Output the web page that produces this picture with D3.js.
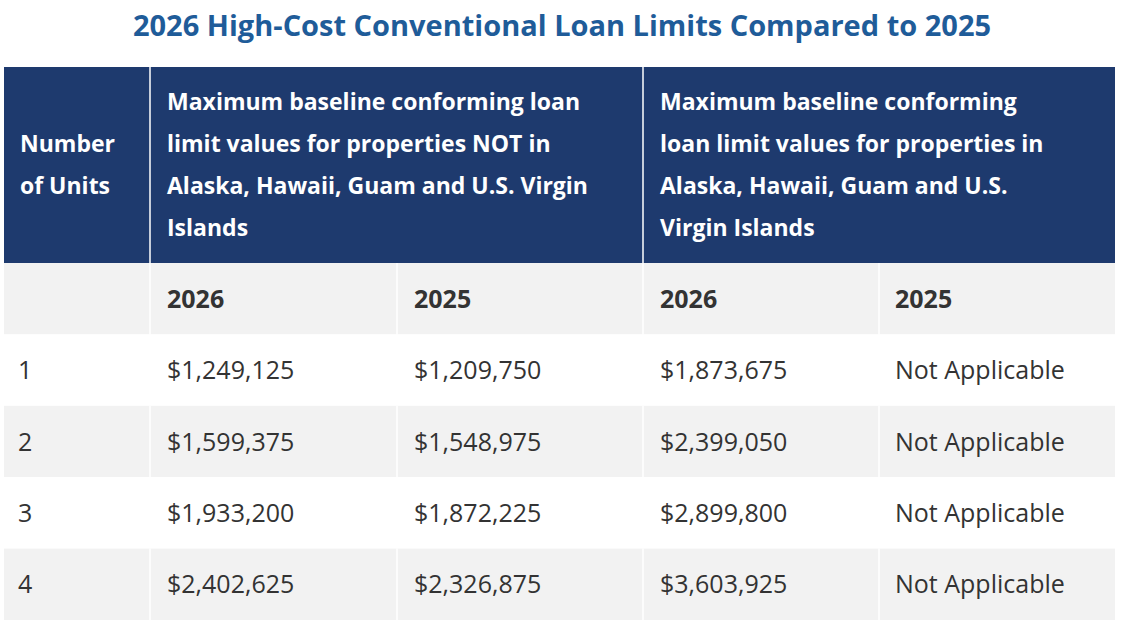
<!DOCTYPE html>
<html><head><meta charset="utf-8">
<script src="https://cdn.jsdelivr.net/npm/d3@7"></script>
<style>body{margin:0;background:#fff}text{font-family:"Open Sans",sans-serif}</style>
</head><body><div id="chart"></div>
<script>
// table data
var title = "2026 High-Cost Conventional Loan Limits Compared to 2025";
var headFirst = ["Number", "of Units"];
var headNotIn = ["Maximum baseline conforming loan", "limit values for properties NOT in", "Alaska, Hawaii, Guam and U.S. Virgin", "Islands"];
var headIn = ["Maximum baseline conforming", "loan limit values for properties in", "Alaska, Hawaii, Guam and U.S.", "Virgin Islands"];
var years = ["2026", "2025", "2026", "2025"];
var units = ["1", "2", "3", "4"];
var notIn2026 = ["$1,249,125", "$1,599,375", "$1,933,200", "$2,402,625"];
var notIn2025 = ["$1,209,750", "$1,548,975", "$1,872,225", "$2,326,875"];
var in2026 = ["$1,873,675", "$2,399,050", "$2,899,800", "$3,603,925"];
var in2025 = ["Not Applicable", "Not Applicable", "Not Applicable", "Not Applicable"];

var W = 1124, H = 629;
var svg = d3.select("#chart").append("svg").attr("width", W).attr("height", H);

// column edges
var colX = d3.scaleOrdinal().domain([0, 1, 2, 3, 4, 5]).range([4, 150, 397, 643, 879, 1115]);
// row bands below header
var rowY = d3.scaleBand().domain(["years"].concat(units)).range([263, 620]);

svg.append("text").attr("x", W / 2).attr("y", 36).attr("text-anchor", "middle")
    .attr("font-size", 29).attr("font-weight", 700).attr("fill", "#1f5c99").text(title);

// header band
svg.append("rect").attr("x", colX(0)).attr("y", 67).attr("width", colX(5) - colX(0)).attr("height", 196).attr("fill", "#1e3a6e");
[1, 3].forEach(function (c) {
    svg.append("line").attr("x1", colX(c)).attr("x2", colX(c)).attr("y1", 67).attr("y2", 263)
        .attr("stroke", "#fff").attr("stroke-width", 1.5);
});
function headLines(lines, x, y0) {
    var t = svg.append("text").attr("fill", "#fff").attr("font-size", 23).attr("font-weight", 700);
    lines.forEach(function (l, i) {
        t.append("tspan").attr("x", x).attr("y", y0 + i * 42).text(l);
    });
}
headLines(headFirst, colX(0) + 16, 152);
headLines(headNotIn, colX(1) + 17, 110);
headLines(headIn, colX(3) + 17, 110);

// body rows
var rows = [{ key: "years", cells: [""].concat(years), bold: true }];
units.forEach(function (u, i) {
    rows.push({ key: u, cells: [u, notIn2026[i], notIn2025[i], in2026[i], in2025[i]], bold: false });
});
rows.forEach(function (r, ri) {
    var y = rowY(r.key), h = rowY.bandwidth();
    var gray = ri % 2 === 0;
    r.cells.forEach(function (c, ci) {
        var x0 = colX(ci), x1 = colX(ci + 1);
        svg.append("rect").attr("x", x0).attr("y", y).attr("width", x1 - x0).attr("height", h)
            .attr("fill", gray ? "#f2f2f2" : "#fff");
        if (ci > 0) svg.append("line").attr("x1", x0).attr("x2", x0).attr("y1", y).attr("y2", y + h)
            .attr("stroke", "#fff").attr("stroke-width", 1.5);
        svg.append("text").attr("x", x0 + (ci === 0 ? 14 : ci === 4 ? 16 : 17)).attr("y", y + h / 2 + 9)
            .attr("font-size", 25).attr("font-weight", r.bold ? 700 : 400)
            .attr("fill", "#333").text(c);
    });
});
</script></body></html>
